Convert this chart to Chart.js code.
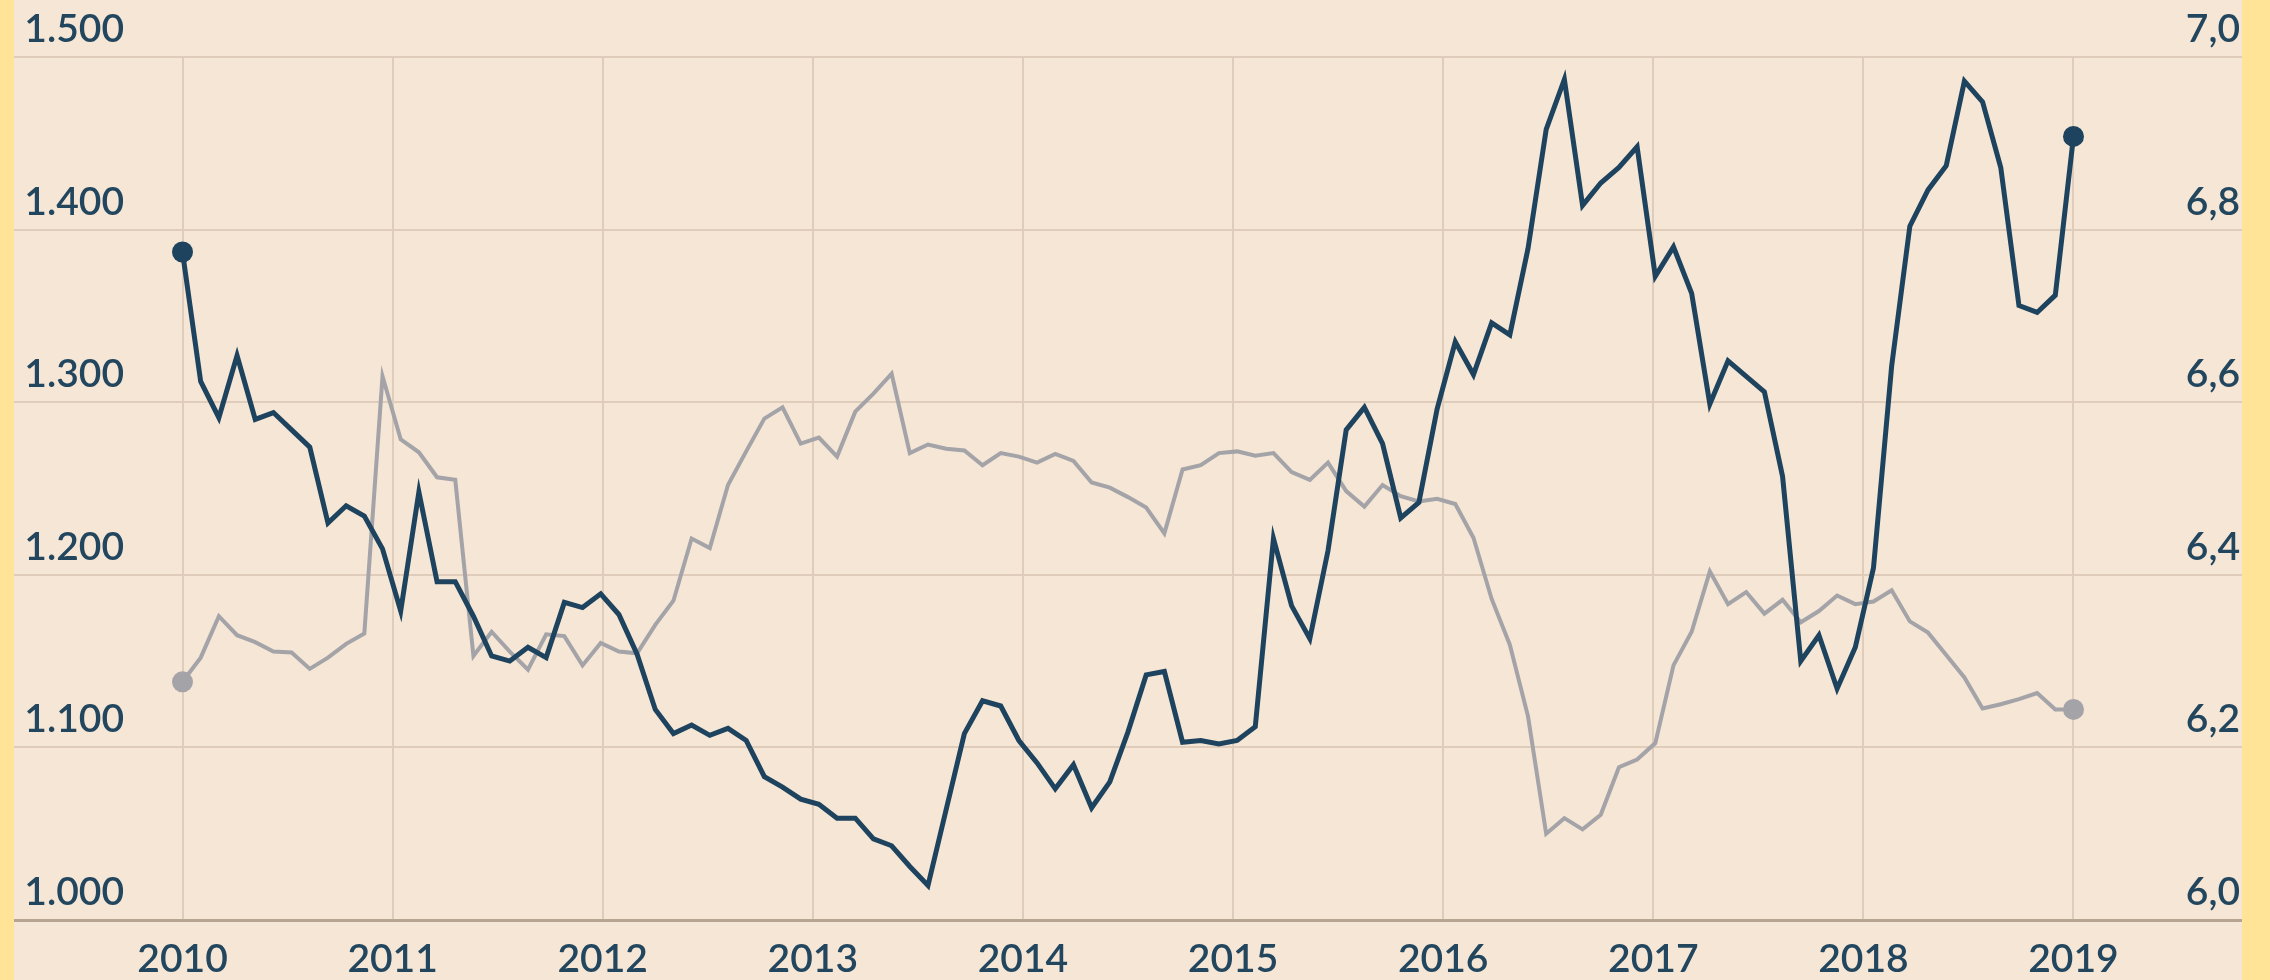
<!DOCTYPE html>
<html>
<head>
<meta charset="utf-8">
<script src="https://cdn.jsdelivr.net/npm/chart.js@4.4.1/dist/chart.umd.min.js"></script>
<style>
  html, body { margin: 0; padding: 0; background: #FFE497; overflow: hidden; width: 2270px; height: 980px; }
  #wrap { position: absolute; left: 14px; top: 0; width: 2228px; height: 980px; background: #F5E6D6; }
  canvas { display: block; }
</style>
</head>
<body>
<div id="wrap"><canvas id="chart" width="2228" height="980"></canvas></div>
<script>
// ---- data ----
const yearTicks = [2010, 2011, 2012, 2013, 2014, 2015, 2016, 2017, 2018, 2019];
const yearLabels = ['2010', '2011', '2012', '2013', '2014', '2015', '2016', '2017', '2018', '2019'];

const leftTicks = [1.0, 1.1, 1.2, 1.3, 1.4, 1.5];
const leftLabels = ['1.000', '1.100', '1.200', '1.300', '1.400', '1.500'];

const rightTicks = [6.0, 6.2, 6.4, 6.6, 6.8, 7.0];
const rightLabels = ['6,0', '6,2', '6,4', '6,6', '6,8', '7,0'];

// dark series (left axis)
const darkSeries = [
  1.387, 1.312, 1.291, 1.327, 1.290, 1.294, 1.284, 1.274, 1.230, 1.240,
  1.234, 1.215, 1.179, 1.248, 1.196, 1.196, 1.176, 1.153, 1.150, 1.158,
  1.152, 1.184, 1.181, 1.189, 1.177, 1.154, 1.122, 1.108, 1.113, 1.107,
  1.111, 1.104, 1.083, 1.077, 1.070, 1.067, 1.059, 1.059, 1.047, 1.043,
  1.031, 1.020, 1.064, 1.108, 1.127, 1.124, 1.104, 1.091, 1.076, 1.090,
  1.065, 1.080, 1.109, 1.142, 1.144, 1.103, 1.104, 1.102, 1.104, 1.112,
  1.221, 1.182, 1.163, 1.214, 1.284, 1.297, 1.276, 1.233, 1.242, 1.296,
  1.335, 1.316, 1.346, 1.339, 1.389, 1.458, 1.487, 1.414, 1.427, 1.436,
  1.448, 1.373, 1.390, 1.363, 1.299, 1.324, 1.315, 1.306, 1.257, 1.150,
  1.165, 1.134, 1.158, 1.204, 1.321, 1.402, 1.423, 1.437, 1.486, 1.474,
  1.436, 1.356, 1.352, 1.362, 1.454
];

// grey series (right axis)
const greySeries = [
  6.276, 6.304, 6.352, 6.330, 6.322, 6.311, 6.310, 6.291, 6.304, 6.320,
  6.332, 6.630, 6.557, 6.542, 6.513, 6.510, 6.306, 6.334, 6.311, 6.290,
  6.331, 6.329, 6.295, 6.321, 6.311, 6.309, 6.342, 6.370, 6.442, 6.431,
  6.504, 6.543, 6.581, 6.594, 6.552, 6.559, 6.537, 6.589, 6.610, 6.633,
  6.541, 6.551, 6.546, 6.544, 6.527, 6.541, 6.537, 6.530, 6.540, 6.532,
  6.507, 6.501, 6.490, 6.478, 6.448, 6.522, 6.527, 6.541, 6.543, 6.538,
  6.541, 6.519, 6.510, 6.530, 6.497, 6.479, 6.504, 6.491, 6.485, 6.488,
  6.482, 6.443, 6.372, 6.319, 6.236, 6.100, 6.118, 6.105, 6.122, 6.177,
  6.186, 6.205, 6.295, 6.334, 6.404, 6.366, 6.380, 6.355, 6.371, 6.345,
  6.358, 6.376, 6.366, 6.369, 6.382, 6.346, 6.333, 6.307, 6.281, 6.245,
  6.250, 6.256, 6.263, 6.244, 6.244
];

// ---- styling ----
const darkColor = '#1E435E';
const greyColor = '#A3A3A8';
const textColor = '#23465F';
const gridColor = '#DFCCBA';
const axisColor = '#B8A591';
const fontFamily = 'Lato, "Open Sans", sans-serif';

const firstYear = yearTicks[0];
const lastYear = yearTicks[yearTicks.length - 1];
function xAt(i, n) { return firstYear + i * (lastYear - firstYear) / (n - 1); }
function toPoints(arr) { return arr.map((v, i) => ({ x: xAt(i, arr.length), y: v })); }
function endRadius(n) { return ctx => (ctx.dataIndex === 0 || ctx.dataIndex === n - 1) ? 10.5 : 0; }

const sideLabels = {
  id: 'sideLabels',
  afterDraw(chart) {
    const { ctx, chartArea, scales } = chart;
    ctx.save();
    ctx.font = '600 39px ' + fontFamily;
    ctx.fillStyle = textColor;
    ctx.textBaseline = 'alphabetic';
    ctx.textAlign = 'right';
    leftTicks.forEach((v, i) => {
      ctx.fillText(leftLabels[i], 110, scales.y.getPixelForValue(v) - 15);
    });
    rightTicks.forEach((v, i) => {
      ctx.fillText(rightLabels[i], chartArea.right - 2, scales.y1.getPixelForValue(v) - 15);
    });
    ctx.restore();
  }
};

new Chart(document.getElementById('chart'), {
  type: 'line',
  data: {
    datasets: [
      {
        data: toPoints(darkSeries),
        yAxisID: 'y',
        borderColor: darkColor,
        borderWidth: 5,
        pointRadius: endRadius(darkSeries.length),
        pointHoverRadius: 0,
        pointBackgroundColor: darkColor,
        pointBorderWidth: 0,
        tension: 0,
        clip: false
      },
      {
        data: toPoints(greySeries),
        yAxisID: 'y1',
        borderColor: greyColor,
        borderWidth: 4,
        pointRadius: endRadius(greySeries.length),
        pointHoverRadius: 0,
        pointBackgroundColor: greyColor,
        pointBorderWidth: 0,
        tension: 0,
        clip: false
      }
    ]
  },
  options: {
    responsive: false,
    animation: false,
    devicePixelRatio: 1,
    events: [],
    layout: { autoPadding: false, padding: { top: 57, left: 0, right: 0, bottom: 0 } },
    plugins: { legend: { display: false }, tooltip: { enabled: false } },
    scales: {
      x: {
        type: 'linear',
        min: 2009.198,
        max: 2019.802,
        afterBuildTicks: s => { s.ticks = yearTicks.map(v => ({ value: v })); },
        afterFit: s => { s.height = 60; },
        ticks: {
          callback: v => yearLabels[yearTicks.indexOf(v)],
          color: textColor,
          font: { family: fontFamily, size: 39, weight: '600' },
          padding: 16,
          maxRotation: 0,
          autoSkip: false
        },
        grid: { color: gridColor, lineWidth: 2, drawTicks: false },
        border: { display: true, color: axisColor, width: 3, z: 1 }
      },
      y: {
        position: 'left',
        min: 1.0,
        max: 1.5,
        afterBuildTicks: s => { s.ticks = leftTicks.map(v => ({ value: v })); },
        afterFit: s => { s.width = 0; },
        ticks: { display: false },
        grid: { color: gridColor, lineWidth: 2, drawTicks: false },
        border: { display: false }
      },
      y1: {
        position: 'right',
        min: 6.0,
        max: 7.0,
        afterBuildTicks: s => { s.ticks = rightTicks.map(v => ({ value: v })); },
        afterFit: s => { s.width = 0; },
        ticks: { display: false },
        grid: { display: false, drawTicks: false },
        border: { display: false }
      }
    }
  },
  plugins: [sideLabels]
});
</script>
</body>
</html>
